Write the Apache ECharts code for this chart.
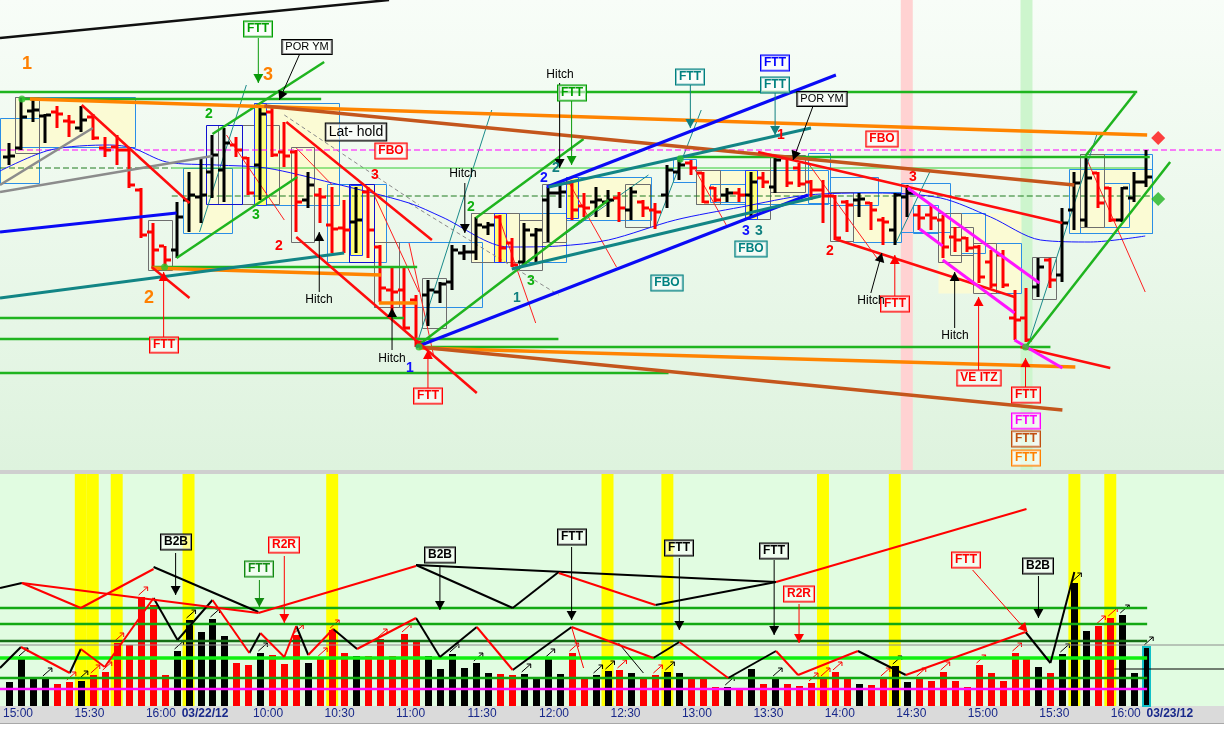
<!DOCTYPE html>
<html><head><meta charset="utf-8">
<script src="https://cdn.jsdelivr.net/npm/echarts/dist/echarts.min.js"></script>
<style>html,body{margin:0;padding:0;background:#fff;overflow:hidden}#c{width:1224px;height:738px}</style>
</head><body><div id="c"></div>
<script>
// ---------------- DATA (5-minute bars, YM futures) ----------------
const sessions = [['03/21/12', 15, 0, 15], ['03/22/12', 9, 30, 81], ['03/23/12', 9, 30, 6]];
const opens = [13121.5,13126,13144.5,13142,13144,13139.5,13136,13141.5,13126,13126.5,
 13125,13105,13084,13077,13075,13100,13101.5,13114,13115,13127.5,
 13121,13117.5,13144,13124,13124,13100,13102.5,13087.5,13086,13089,
 13104,13076.5,13055,13055,13050,13052.5,13054,13059,13073.5,13074,
 13086.5,13091.5,13078.5,13069,13082.5,13100,13103.5,13108.5,13097,13099,
 13099,13101,13095,13099,13095,13102.5,13114,13118.5,13113.5,13106,
 13102.5,13103.5,13102.5,13111,13106.5,13121,13116,13109,13105,13102,
 13099,13100,13098.5,13090,13085,13101.5,13092.5,13092.5,13090,13081.5,
 13081,13076.5,13069,13072.5,13041,13041,13056.5,13070,13062.5,13095,
 13090,13113.5,13106,13090,13101,13109];
const highs = [13128.5,13151,13150,13143,13147,13142.5,13147,13143,13131.5,13132.5,
 13126.5,13106,13088.5,13077,13099,13114,13120.5,13132.5,13136,13131.5,
 13121.5,13146.5,13146,13139,13125,13114,13106,13106.5,13100,13106.5,
 13106.5,13077.5,13066.5,13066.5,13052.5,13060,13059,13077.5,13077.5,13091.5,
 13089,13092.5,13081,13088.5,13086,13106.5,13107.5,13110,13103.5,13106.5,
 13105,13104,13106.5,13100,13098.5,13117.5,13120,13120,13114,13106.5,
 13106,13106,13114,13114,13121.5,13121.5,13118.5,13110,13110,13102.5,
 13100,13103.5,13099,13091.5,13103.5,13107.5,13097.5,13097.5,13092.5,13086.5,
 13081.5,13077.5,13075,13075,13055,13056,13071,13071,13096,13114,
 13121.5,13114,13106.5,13106.5,13114,13125];
const lows = [13117.5,13125,13139,13128.5,13136,13131.5,13134,13130,13121.5,13117.5,
 13106,13081,13066.5,13066.5,13071,13084,13088.5,13101,13099,13121.5,
 13102.5,13100,13121.5,13116.5,13084,13096,13088.5,13073.5,13073.5,13073.5,
 13071,13049,13041,13035,13026.5,13037,13048.5,13055,13070,13070,
 13082.5,13069,13066.5,13066.5,13069,13079,13096,13090,13091.5,13091.5,
 13091.5,13089,13090,13091.5,13085.5,13096,13110,13112.5,13098.5,13099,
 13099,13099,13091.5,13106,13103.5,13106.5,13106.5,13100,13088.5,13080,
 13084,13091.5,13085,13077.5,13077.5,13091.5,13085,13085,13071,13074,
 13074,13058.5,13056,13056,13030,13029,13051.5,13056,13059,13085,
 13086.5,13096,13089,13089,13099,13106.5];
const closes = [13122,13141.5,13145,13142.5,13143,13139,13140,13131,13125,13125,
 13107.5,13082.5,13075,13070,13091.5,13102.5,13102.5,13122.5,13128.5,13125,
 13103.5,13143,13122.5,13122,13099,13107.5,13101.5,13085.5,13085,13090,
 13085,13056,13054,13036,13029,13055,13058,13075,13074,13087.5,
 13087.5,13076,13067.5,13085,13085,13103.5,13104,13095,13096,13100,
 13100,13096,13104,13096,13094,13115,13117.5,13116,13099,13100,
 13103.5,13102.5,13109,13109,13120,13108.5,13108,13105,13102,13081,
 13097.5,13100.5,13095,13089,13102.5,13103.5,13091,13091,13076.5,13080,
 13076,13061.5,13057.5,13057.5,13040,13030,13066.5,13060,13088.5,13108.5,
 13111,13098.5,13090,13106,13109,13111.5];
const volumes = [1200,2400,1400,1400,1100,1200,1250,1550,1700,3150,
 3050,5450,5050,1550,2750,4300,3700,4350,3500,2150,
 2050,2650,2550,2100,3550,2150,2400,3800,2650,2500,
 2500,3350,2500,3600,3200,2500,1850,2600,1900,2150,
 1650,1600,1550,1600,1400,2350,1600,2650,1400,1550,
 1750,1800,1650,1400,1550,1700,1650,1400,1350,950,
 950,900,1850,1100,1400,1100,1000,1150,1400,1700,
 1400,1100,1050,1400,2000,1200,1400,1250,1700,1250,
 950,2050,1650,1250,2650,2350,1950,1650,2600,6150,
 3750,4000,4400,4550,1650,2950];
// moving average
const maLine = [[-0.75,13114.5],[3.42,13125],[8.42,13127.5],[10.33,13126],[13.17,13119],[17.33,13117.5],[21.5,13116],[27,13108.5],[33.42,13098.5],[36.17,13091.5],[41.75,13076.5],[45.92,13077],[50.08,13080],[55.67,13090],[61.17,13096.5],[66.75,13102.5],[72.33,13103.5],[77.83,13101],[82,13091.5],[86.17,13080],[90.33,13079],[94.92,13082]];
// highlighted bars
const volHighlightBars = [6,7,9,15,27,50,55,68,74,89,92];
const redZoneBars = [75];
const greenZoneBars = [85];
const signalArrowBars = [1,3,5,6,7,8,9,11,14,15,17,21,24,26,27,31,33,37,39,43,45,47,49,50,51,54,55,60,64,67,68,69,73,74,76,78,81,84,88,89,91,92,93,95];
// trend lines [bar1, price1, bar2, price2]
const blackLines = [[-0.75,13181,31.75,13200]];
const greenLines = [[-0.75,13154,94.25,13154],[1.08,13150.5,26.08,13150.5],[11.92,13066.5,34.1,13066.5],[-0.75,13041,33,13041],[-0.75,13030.5,45.9,13030.5],[-0.75,13013.5,55.1,13013.5],[34.25,13026.5,87,13026.5],[55.9,13121.5,95.3,13121.5],[17,13133,26.33,13169],[14,13071,24.08,13111.5],[34,13026.5,50.08,13100],[39,13091,48,13130.5],[84.92,13026.5,97,13119],[89.92,13122,94.08,13153.5]];
const thinGreenLines = [[13.6,13116,95.1,13116]];
const dashedGreenLines = [[-0.75,13116,13.6,13116],[13.6,13102,95.3,13102]];
const dashedMagentaLines = [[-0.75,13125,101.5,13125]];
const orangeLines = [[1.75,13150.5,95.08,13132.5],[11.92,13066,31.08,13062.5],[30.9,13048.5,34.1,13048.5],[34.25,13026,89.08,13016.5]];
const brownLines = [[21.33,13147,89,13107.5],[34.25,13026.5,88,12995]];
const blueLines = [[-0.75,13084,14,13093.5],[34,13026.5,66.75,13102.5],[44.92,13106.5,69.08,13162.5]];
const tealLines = [[-0.75,13051,28,13073.5],[42,13065.5,67.83,13102],[45.08,13106.5,67,13136]];
const redLines = [[6.08,13147.5,15.08,13098.5],[11.92,13066.5,15.08,13051],[23.17,13139,35.33,13080],[24,13081.5,39.08,13003.5],[62.58,13124,88,13088.5],[69,13080.5,84,13051.5],[84.5,13026.5,92,13016]];
const magentaLines = [[75.08,13106,86.08,13058.5],[76.08,13085.5,78,13077],[78,13070,84,13043.5],[84,13030,88,13016]];
const grayLines = [[-0.75,13107.5,7,13136],[-0.75,13104,17,13122]];
const grayDashLines = [[23,13142.5,34.25,13097.5],[33.42,13098.5,45.92,13052.5]];
const thinRedLines = [[18.17,13132.5,23,13090],[24,13126,27,13107.5],[30.5,13102.5,34.25,13054],[33.42,13078.5,35.5,13021.5],[40.92,13091.5,44,13038.5],[46.75,13109,50.75,13066.5],[57.33,13115,59.92,13087.5],[89.92,13122,94.92,13054],[66.75,13118.5,72.75,13069]];
const thinTealLines = [[34,13026.5,40.33,13145],[42.58,13066.5,53.42,13112.5],[54,13086,57.83,13145],[15.92,13084,19.83,13157.5],[85.08,13026.5,90.92,13133.5],[74,13077.5,77,13115]];
// rectangles [bar1, bar2, priceTop, priceBottom]
const filledBoxes = [[-0.75,2.5,13141,13108.5],[0.5,10.5,13151.5,13126.5],[14.5,18.58,13116,13083.5],[20.5,27.58,13148.5,13097.5],[26.58,31.5,13108,13069],[38.58,46.5,13093.5,13069],[46.5,53.58,13111.5,13090],[57.42,68.42,13115,13098],[70.5,74.5,13104,13079],[77.58,84.5,13093.5,13053.5],[88.58,95.5,13115.5,13083.5]];
const blueBoxes = [[-0.75,2.5,13141,13108.5],[0.5,10.5,13151.5,13126.5],[14.5,18.58,13116,13083.5],[20.5,27.58,13148.5,13097.5],[26.58,31.5,13108,13069],[38.58,46.5,13093.5,13069],[46.5,53.58,13111.5,13090],[57.42,68.42,13115,13098],[70.5,74.5,13104,13079],[82.42,84.5,13078.5,13053.5],[88.58,95.5,13115.5,13083.5],
 [30.5,39.5,13079,13046.5],[55.5,57.42,13120.5,13109],[58.58,61.5,13108,13099],[66.75,68.58,13123.5,13098.5],[68.58,72.58,13111.5,13097.5],[74.5,78.58,13108.5,13084],[75.5,77.58,13097.5,13083.5],[79.5,81.5,13093.5,13073.5],[89.5,95.5,13123,13083.5],[91.5,93.58,13108.5,13086.5]];
const grayBoxes = [[0.5,2.5,13151.5,13123.5],[11.58,13.58,13090,13065],[17.5,22.58,13137.5,13098],[23.58,25.5,13126.5,13079],[30.5,32.58,13079,13046.5],[34.5,36.5,13061,13036],[38.58,42.58,13093.5,13069],[42.58,44.5,13090,13065],[44.5,46.5,13108,13079],[51.5,53.58,13108,13086.5],[57.42,59.42,13115,13098],[61.5,63.58,13115,13090.5],[63.58,66.5,13122.5,13104],[68.58,70.5,13104,13079.5],[77.58,79.5,13093.5,13069],[78.58,80.5,13086.5,13072.5],[80.5,82.42,13078.5,13053.5],[85.5,87.5,13071.5,13050.5],[89.5,91.5,13123,13086.5]];
const navyBoxes = [[16.5,19.5,13137.5,13098],[28.42,30.5,13108,13069],[40.5,41.5,13093.5,13069]];
const keyBars = [[21,13148.5,13097.5],[29,13107.5,13072.5],[41,13093.5,13069],[47,13111.5,13091],[62,13115,13090.5]];
// markers
const pivotDots = [[1.08,13150.5],[13,13066.5],[34.25,13026.5],[56.08,13120.5],[84.92,13026.5]];
const redDiamonds = [[96,13131]];
const greenDiamonds = [[96,13100.5]];
// price-panel notes [bar, price, text]
const notesBoxBlack = [[24.92,13176.5,'POR YM'],[67.92,13150.5,'POR YM']];
const notesLatHold = [[29,13134,'Lat- hold']];
const notesBoxRed = [[31.92,13124.5,'FBO'],[12.92,13027.5,'FTT'],[35,13002,'FTT'],[72.92,13130.5,'FBO'],[74,13048,'FTT'],[81,13011,'VE ITZ'],[84.92,13002.5,'FTT']];
const notesBoxGreen = [[20.83,13185.5,'FTT'],[47,13153.5,'FTT']];
const notesBoxTeal = [[56.92,13161.5,'FTT'],[64,13157.5,'FTT'],[55,13058.5,'FBO'],[62,13075.5,'FBO']];
const notesBoxBlue = [[64,13168.5,'FTT']];
const notesBoxMagenta = [[84.92,12989.5,'FTT']];
const notesBoxBrown = [[84.92,12980.5,'FTT']];
const notesBoxOrange = [[84.92,12971,'FTT']];
const notesHitch = [[25.92,13050,'Hitch'],[32,13020.5,'Hitch'],[37.92,13113,'Hitch'],[46,13162.5,'Hitch'],[72,13049.5,'Hitch'],[79,13032,'Hitch']];
const countsOrange = [[1.5,13168,'1'],[21.67,13162.5,'3'],[11.67,13051,'2']];
const countsGreen = [[16.67,13143,'2'],[20.67,13092.5,'3'],[38.58,13096.5,'2'],[43.58,13059.5,'3']];
const countsRed = [[30.58,13112.5,'3'],[22.58,13077,'2'],[64.5,13132.5,'1'],[75.5,13111.5,'3'],[68.58,13074.5,'2']];
const countsBlue = [[33.5,13016,'1'],[44.67,13111,'2'],[61.58,13084.5,'3']];
const countsTeal = [[42.42,13051,'1'],[45.67,13116,'2'],[62.67,13084.5,'3']];
const arrowsBlack = [[24.25,13172.5,22.58,13150],[25.92,13054,25.92,13084],[32,13025,32,13046],[38.08,13108.5,38.08,13083.5],[46,13158.5,46,13116],[67.17,13147,65.5,13120],[72,13053.5,72.92,13073.5],[79,13036,79,13064]];
const arrowsGreen = [[20.83,13181,20.83,13158.5],[47,13149.5,47,13117.5]];
const arrowsTeal = [[56.92,13157.5,56.92,13136],[64,13153.5,64,13132.5]];
const arrowsRed = [[12.92,13031,12.92,13064],[35,13006,35,13025],[74,13052,74,13072.5],[81,13015,81,13051.5],[84.92,13006.5,84.92,13021]];
// volume panel
const volZigBlack = [[-0.75,5900,1.08,6150],[12.08,6950,20.83,4700],[34,7050,42.08,4900],[42.08,4900,45.92,6700],[34,7050,64.08,6200],[54,5050,64.08,6200],
 [-0.75,1900,1,2950],[5.08,1650,6,2850],[12.08,5400,14.08,3300],[14.08,3300,17,5300],[20.08,2650,21,3650],[24,4000,25,2550],[27.08,3850,29.08,2850],[34,4400,36,2450],[36,2450,39.08,3950],[42.08,1800,47,3950],[53.83,2400,56,3200],[60.08,1400,64.08,2750],[70.92,2750,74.92,1550],[84.92,3700,87,2150],[87,2150,89,6700]];
const volZigRed = [[1.08,6150,6,4900],[6,4900,12.08,6850],[1.08,6150,20.83,4650],[20.83,4650,34,7000],[45.92,6650,54,5050],[64.08,6200,85,9850],
 [1,2950,5.08,1650],[6,2850,8,1950],[8,1950,12.08,5400],[17,5300,20.08,2650],[21,3650,23,2450],[23,2450,24,4000],[25,2550,27.08,3850],[29.08,2850,34,4400],[39.08,3950,42.08,1800],[47,3950,53.83,2400],[56,3200,60.08,1400],[64.08,2750,65.92,1550],[65.92,1550,70.92,2750],[74.92,1550,84.92,3700]];
const volThinBlack = [[50.92,3150,53,1650]];
const volThinRed = [[47,3950,48,1900]];
const volGreenLevels = [[-0.75,4900,95.08,4900],[-0.75,4100,95.08,4100],[-0.75,1400,95.08,1400]];
const volDarkGreenLevels = [[-0.75,3250,95.08,3250]];
const volBrightLevels = [[-0.75,2400,95.08,2400]];
const volMagentaLevels = [[-0.75,850,95.08,850]];
const volGrayLevels = [[-0.75,3050,101.5,3050]];
const volBlackLevels = [[92.33,1850,101.5,1850]];
const volNotesBlack = [[13.92,8200,'B2B'],[36,7550,'B2B'],[47,8450,'FTT'],[56,7900,'FTT'],[63.92,7750,'FTT'],[86,7000,'B2B']];
const volNotesRed = [[23,8050,'R2R'],[66,5600,'R2R'],[79.92,7300,'FTT']];
const volNotesGreen = [[20.92,6850,'FTT']];
const volArrowsBlack = [[13.92,7650,13.92,5550],[36,7000,36,4800],[47,7950,47,4300],[56,7400,56,3800],[63.92,7300,63.92,3550],[86,6500,86,4400]];
const volArrowsRed = [[23,7500,23,4150],[66,5100,66,3150]];
const volArrowsThinRed = [[80.5,6800,85.08,3700]];
const volArrowsGreen = [[20.92,6300,20.92,4950]];

// ---------------- CHART ----------------
const P_MIN = 12965, P_MAX = 13200, V_MAX = 11600;
const X_MIN = -0.75, X_MAX = 101.5;
const categories = [];
sessions.forEach(([d, h, m, n]) => { for (let i = 0; i < n; i++) { const t = h * 60 + m + 5 * i; categories.push(d + ' ' + Math.floor(t / 60) + ':' + String(t % 60).padStart(2, '0')); } });
const FONT = '"Liberation Sans", Arial, sans-serif';
const isUp = i => closes[i] >= opens[i];

function segs(data, grid, color, width, opt) {
  opt = opt || {};
  return {
    type: 'custom', xAxisIndex: grid, yAxisIndex: grid, z: opt.z || 4, silent: true, clip: true,
    data: data,
    renderItem(params, api) {
      const a = api.coord([api.value(0), api.value(1)]);
      const b = api.coord([api.value(2), api.value(3)]);
      const ch = [{ type: 'line', shape: { x1: a[0], y1: a[1], x2: b[0], y2: b[1] }, style: { stroke: color, lineWidth: width, lineDash: opt.dash || null } }];
      if (opt.arrow) {
        const ang = Math.atan2(b[1] - a[1], b[0] - a[0]), L = opt.arrow, W = opt.arrow * 0.55;
        const bx = b[0] - L * Math.cos(ang), by = b[1] - L * Math.sin(ang);
        ch.push({ type: 'polygon', shape: { points: [[b[0], b[1]], [bx - W * Math.sin(ang), by + W * Math.cos(ang)], [bx + W * Math.sin(ang), by - W * Math.cos(ang)]] }, style: { fill: color } });
      }
      return { type: 'group', children: ch };
    }
  };
}
function rects(data, fill, stroke, z) {
  return {
    type: 'custom', xAxisIndex: 0, yAxisIndex: 0, z: z, silent: true, clip: true, data: data,
    renderItem(params, api) {
      const a = api.coord([api.value(0), api.value(2)]);
      const b = api.coord([api.value(1), api.value(3)]);
      return { type: 'rect', shape: { x: Math.round(a[0]) + 0.5, y: Math.round(a[1]) + 0.5, width: Math.round(b[0] - a[0]), height: Math.round(b[1] - a[1]) }, style: { fill: fill, stroke: stroke, lineWidth: 1 } };
    }
  };
}
function bands(bars, grid, color, lo, hi) {
  return {
    type: 'custom', xAxisIndex: grid, yAxisIndex: grid, z: 1, silent: true, data: bars.map(k => [k]),
    renderItem(params, api) {
      const k = api.value(0);
      const a = api.coord([k - 0.5, hi]), b = api.coord([k + 0.5, lo]);
      return { type: 'rect', shape: { x: a[0], y: a[1], width: b[0] - a[0], height: b[1] - a[1] }, style: { fill: color } };
    }
  };
}
function texts(arr, grid, color, font, boxed, z) {
  return {
    type: 'custom', xAxisIndex: grid, yAxisIndex: grid, z: z || 8, silent: true, clip: false,
    data: arr.map(a => [a[0], a[1]]),
    renderItem(params, api) {
      const p = api.coord([api.value(0), api.value(1)]);
      const st = { text: arr[params.dataIndex][2], fill: color, font: font, align: 'center', verticalAlign: 'middle' };
      if (boxed) { st.backgroundColor = 'rgba(255,255,255,0.55)'; st.borderColor = color; st.borderWidth = 1; st.padding = [2, 3, 1, 3]; }
      return { type: 'text', x: Math.round(p[0]), y: Math.round(p[1]), style: st };
    }
  };
}

const series = [];
// background zones
series.push(bands(redZoneBars, 0, '#ffd2d2', P_MIN, P_MAX));
series.push(bands(greenZoneBars, 0, '#cdf5cd', P_MIN, P_MAX));
series.push(bands(volHighlightBars, 1, '#ffff00', 0, V_MAX));
// boxes
series.push(rects(filledBoxes, '#fbfbd4', null, 2));
series.push(rects(blueBoxes, null, '#2a8ee6', 2));
series.push(rects(grayBoxes, null, '#6e6e6e', 2));
series.push(rects(navyBoxes, null, '#1010d0', 2));
series.push(rects(keyBars.map(a => [a[0] - 0.5, a[0] + 0.5, a[1], a[2]]), '#ffff78', '#1a3cff', 2));
// thin lines under bars
series.push(segs(thinRedLines, 0, '#ff2020', 1, { z: 3 }));
series.push(segs(thinTealLines, 0, '#1a8a8a', 1, { z: 3 }));
series.push(segs(grayDashLines, 0, '#8a8a8a', 1, { z: 3, dash: [4, 3] }));
series.push(segs(dashedGreenLines, 0, '#1f7a1f', 1, { z: 3, dash: [6, 3] }));
series.push(segs(thinGreenLines, 0, '#33cc33', 1, { z: 3 }));
series.push(segs(dashedMagentaLines, 0, '#ff00ff', 1, { z: 3, dash: [6, 3] }));
series.push({ type: 'line', xAxisIndex: 0, yAxisIndex: 0, z: 3, silent: true, symbol: 'none', smooth: 0.3, data: maLine, lineStyle: { color: '#1414ff', width: 1 } });
// OHLC bars
series.push({
  type: 'custom', xAxisIndex: 0, yAxisIndex: 0, z: 5, silent: true,
  data: opens.map((o, i) => [i, o, highs[i], lows[i], closes[i]]),
  renderItem(params, api) {
    const k = api.value(0);
    const h = api.coord([k, api.value(2)]), l = api.coord([k, api.value(3)]);
    const o = api.coord([k, api.value(1)]), c = api.coord([k, api.value(4)]);
    const col = api.value(4) >= api.value(1) ? '#000000' : '#ff0000';
    const x = Math.round(h[0]);
    return { type: 'group', children: [
      { type: 'rect', shape: { x: x - 1.5, y: h[1], width: 3, height: Math.max(2, l[1] - h[1]) }, style: { fill: col } },
      { type: 'rect', shape: { x: x - 6, y: Math.round(o[1]) - 1.5, width: 5, height: 3 }, style: { fill: col } },
      { type: 'rect', shape: { x: x + 1, y: Math.round(c[1]) - 1.5, width: 5, height: 3 }, style: { fill: col } }
    ] };
  }
});
// trend lines
series.push(segs(grayLines, 0, '#8c8c8c', 2.5, { z: 6 }));
series.push(segs(blackLines, 0, '#101010', 2.5, { z: 6 }));
series.push(segs(greenLines, 0, '#1fb41f', 2.5, { z: 6 }));
series.push(segs(orangeLines, 0, '#ff8400', 3.5, { z: 6 }));
series.push(segs(brownLines, 0, '#c4561c', 3.5, { z: 6 }));
series.push(segs(blueLines, 0, '#0a0af5', 3, { z: 6 }));
series.push(segs(tealLines, 0, '#128585', 3, { z: 6 }));
series.push(segs(redLines, 0, '#ff0c0c', 2.5, { z: 6 }));
series.push(segs(magentaLines, 0, '#ff14ff', 3, { z: 6 }));
// arrows in price panel
series.push(segs(arrowsBlack, 0, '#000000', 1, { z: 7, arrow: 9 }));
series.push(segs(arrowsGreen, 0, '#0a9a0a', 1, { z: 7, arrow: 9 }));
series.push(segs(arrowsTeal, 0, '#118080', 1, { z: 7, arrow: 9 }));
series.push(segs(arrowsRed, 0, '#ff0000', 1, { z: 7, arrow: 9 }));
// markers
series.push({ type: 'scatter', xAxisIndex: 0, yAxisIndex: 0, z: 7, silent: true, symbol: 'circle', symbolSize: 7, data: pivotDots, itemStyle: { color: '#2ec42e' } });
series.push({ type: 'scatter', xAxisIndex: 0, yAxisIndex: 0, z: 7, silent: true, symbol: 'diamond', symbolSize: 14, data: redDiamonds, itemStyle: { color: '#ff1010' } });
series.push({ type: 'scatter', xAxisIndex: 0, yAxisIndex: 0, z: 7, silent: true, symbol: 'diamond', symbolSize: 14, data: greenDiamonds, itemStyle: { color: '#1fb41f' } });
// price notes
const BOLD = 'bold 12px ' + FONT, NORM = '12px ' + FONT, NUM = 'bold 14px ' + FONT;
series.push(texts(notesBoxBlack, 0, '#000000', '11px ' + FONT, true));
series.push(texts(notesLatHold, 0, '#000000', '14px ' + FONT, true));
series.push(texts(notesBoxRed, 0, '#ff0000', BOLD, true));
series.push(texts(notesBoxGreen, 0, '#00a000', BOLD, true));
series.push(texts(notesBoxTeal, 0, '#008080', BOLD, true));
series.push(texts(notesBoxBlue, 0, '#0000ff', BOLD, true));
series.push(texts(notesBoxMagenta, 0, '#ff00ff', BOLD, true));
series.push(texts(notesBoxBrown, 0, '#c05010', BOLD, true));
series.push(texts(notesBoxOrange, 0, '#ff8000', BOLD, true));
series.push(texts(notesHitch, 0, '#000000', NORM, false));
series.push(texts(countsOrange, 0, '#ff8000', 'bold 18px ' + FONT, false));
series.push(texts(countsGreen, 0, '#10b010', NUM, false));
series.push(texts(countsRed, 0, '#ff0000', NUM, false));
series.push(texts(countsBlue, 0, '#1010ff', NUM, false));
series.push(texts(countsTeal, 0, '#108080', NUM, false));
// volume panel
series.push({
  type: 'custom', xAxisIndex: 1, yAxisIndex: 1, z: 3, silent: true,
  data: volumes.map((v, i) => [i, v]),
  renderItem(params, api) {
    const k = api.value(0);
    const top = api.coord([k, api.value(1)]), base = api.coord([k, 0]);
    const last = params.dataIndex === volumes.length - 1;
    const x = Math.round(top[0]) - 3;
    return { type: 'rect', shape: { x: x, y: top[1], width: 7, height: base[1] - top[1] },
      style: { fill: isUp(k) ? '#000000' : '#ff0000', stroke: last ? '#10c0c8' : null, lineWidth: last ? 2 : 0 } };
  }
});
series.push({
  type: 'custom', xAxisIndex: 1, yAxisIndex: 1, z: 4, silent: true,
  data: signalArrowBars.map(k => [k, volumes[k]]),
  renderItem(params, api) {
    const k = api.value(0), p = api.coord([k, api.value(1)]);
    const col = isUp(k) ? '#000000' : '#ff0000';
    const x0 = p[0] - 2, y0 = p[1] - 2, x1 = p[0] + 7, y1 = p[1] - 10;
    return { type: 'group', children: [
      { type: 'line', shape: { x1: x0, y1: y0, x2: x1, y2: y1 }, style: { stroke: col, lineWidth: 1 } },
      { type: 'polyline', shape: { points: [[x1 - 4, y1], [x1, y1], [x1, y1 + 4]] }, style: { stroke: col, lineWidth: 1, fill: null } }
    ] };
  }
});
series.push(segs(volGrayLevels, 1, '#8c8c8c', 1, { z: 5 }));
series.push(segs(volGreenLevels, 1, '#12a812', 2.5, { z: 5 }));
series.push(segs(volDarkGreenLevels, 1, '#147014', 2.5, { z: 5 }));
series.push(segs(volBrightLevels, 1, '#10f010', 3.5, { z: 5 }));
series.push(segs(volMagentaLevels, 1, '#ff10ff', 2.5, { z: 5 }));
series.push(segs(volBlackLevels, 1, '#000000', 1, { z: 5 }));
series.push(segs(volThinBlack, 1, '#000000', 1, { z: 6 }));
series.push(segs(volThinRed, 1, '#ff0000', 1, { z: 6 }));
series.push(segs(volZigBlack, 1, '#000000', 2, { z: 6 }));
series.push(segs(volZigRed, 1, '#ff0000', 2, { z: 6 }));
series.push(segs(volArrowsBlack, 1, '#000000', 1, { z: 7, arrow: 9 }));
series.push(segs(volArrowsRed, 1, '#ff0000', 1, { z: 7, arrow: 9 }));
series.push(segs(volArrowsThinRed, 1, '#ff0000', 1, { z: 7, arrow: 9 }));
series.push(segs(volArrowsGreen, 1, '#108a10', 1, { z: 7, arrow: 9 }));
series.push(texts(volNotesBlack, 1, '#000000', BOLD, true));
series.push(texts(volNotesRed, 1, '#ff0000', BOLD, true));
series.push(texts(volNotesGreen, 1, '#108a10', BOLD, true));

const option = {
  animation: false,
  backgroundColor: '#ffffff',
  grid: [
    { left: 0, top: 0, width: 1227, height: 470, show: false },
    { left: 0, top: 474, width: 1227, height: 232, show: false },
    { left: 3, top: 474, width: 1224, height: 232, show: false }
  ],
  xAxis: [
    { type: 'value', gridIndex: 0, min: X_MIN, max: X_MAX, show: false },
    { type: 'value', gridIndex: 1, min: X_MIN, max: X_MAX, show: false },
    { type: 'category', gridIndex: 2, data: categories, boundaryGap: true, axisLine: { show: false }, axisTick: { show: false }, splitLine: { show: false },
      axisLabel: { interval: 0, margin: 2, align: 'left', padding: [0, 0, 0, -12], color: '#18288a', fontSize: 12, fontFamily: FONT,
        formatter: v => { const [d, t] = v.split(' '); const [h, m] = t.split(':').map(Number); if (h === 9 && m === 30) return '{d|' + d + '}'; return m % 30 === 0 ? t : ''; },
        rich: { d: { fontWeight: 'bold', color: '#18288a', fontSize: 12, fontFamily: FONT } } } }
  ],
  yAxis: [
    { type: 'value', gridIndex: 0, min: P_MIN, max: P_MAX, show: false, splitLine: { show: false } },
    { type: 'value', gridIndex: 1, min: 0, max: V_MAX, show: false, splitLine: { show: false } },
    { type: 'value', gridIndex: 2, min: 0, max: V_MAX, show: false, splitLine: { show: false } }
  ],
  graphic: [
    { type: 'rect', z: -2, silent: true, shape: { x: 0, y: 0, width: 1224, height: 470 },
      style: { fill: new echarts.graphic.LinearGradient(0, 0, 0, 1, [{ offset: 0, color: '#f8fdf8' }, { offset: 1, color: '#def3de' }]) } },
    { type: 'rect', z: -2, silent: true, shape: { x: 0, y: 474, width: 1224, height: 232 }, style: { fill: '#e1fce1' } },
    { type: 'rect', z: -1, silent: true, shape: { x: 0, y: 706, width: 1224, height: 17 }, style: { fill: '#dadada' } },
    { type: 'rect', z: -1, silent: true, shape: { x: 0, y: 723, width: 1224, height: 1 }, style: { fill: '#a8a8a8' } },
    { type: 'rect', z: -1, silent: true, shape: { x: 0, y: 470, width: 1224, height: 4 }, style: { fill: '#cfcfcf' } }
  ],
  series: series
};
const chart = echarts.init(document.getElementById('c'));
chart.setOption(option);
</script></body></html>
